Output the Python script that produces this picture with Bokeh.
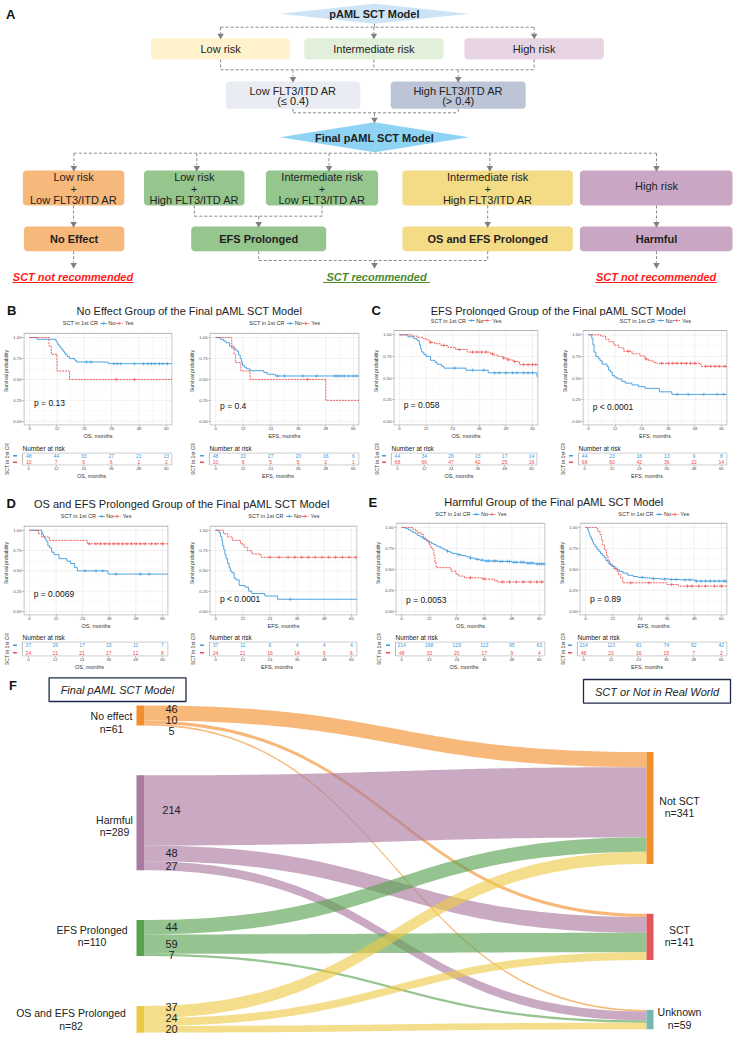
import numpy as np
from bokeh.plotting import figure
from bokeh.models import Range1d, FixedTicker, PrintfTickFormatter
from bokeh.layouts import column, row
from bokeh.core.properties import value
from bokeh.embed import file_html
from bokeh.resources import INLINE

FONT = "Liberation Sans"
BLUE = "#3C9BDE"
RED = "#EE4B4B"
DARK = "#222222"

# ---------------- data: risk tables ----------------
risk_times = [0, 12, 24, 36, 48, 60]
b_os_risk_no = [48, 44, 33, 27, 21, 13]
b_os_risk_yes = [10, 7, 6, 6, 2, 2]
b_efs_risk_no = [48, 33, 27, 20, 16, 6]
b_efs_risk_yes = [10, 6, 5, 5, 2, 1]
c_os_risk_no = [44, 34, 26, 23, 17, 14]
c_os_risk_yes = [68, 66, 47, 42, 25, 16]
c_efs_risk_no = [44, 23, 16, 13, 9, 8]
c_efs_risk_yes = [68, 60, 42, 36, 22, 14]
d_os_risk_no = [37, 26, 17, 15, 11, 7]
d_os_risk_yes = [24, 21, 21, 17, 12, 8]
d_efs_risk_no = [37, 11, 6, 4, 4, 4]
d_efs_risk_yes = [24, 21, 16, 14, 9, 6]
e_os_risk_no = [214, 168, 129, 113, 95, 63]
e_os_risk_yes = [48, 33, 20, 17, 9, 4]
e_efs_risk_no = [214, 113, 81, 74, 62, 42]
e_efs_risk_yes = [48, 23, 16, 15, 7, 2]

# ---------------- data: KM curves (event times, survival after event, censor times) ----------------
b_os_no_t = [3.3, 11.5, 12.0, 12.4, 12.9, 13.5, 14.2, 14.8, 15.3, 15.9, 16.6, 17.5, 19.8, 20.5, 34.5]
b_os_no_s = [0.979, 0.958, 0.938, 0.917, 0.896, 0.875, 0.854, 0.833, 0.812, 0.792, 0.771, 0.750, 0.729, 0.708, 0.688]
b_os_no_c = [25, 27, 37, 38.5, 40, 46, 50, 52, 53.5, 55, 57, 58.5, 60.5]
b_os_yes_t = [8.5, 9.5, 12.0, 17.5]
b_os_yes_s = [0.9, 0.8, 0.6, 0.5]
b_os_yes_c = [38, 46]

b_efs_no_t = [2.0, 3.5, 4.5, 6.0, 7.0, 8.5, 9.3, 10.0, 10.7, 11.2, 11.7, 12.5, 13.5, 15.0, 21.0, 22.5, 26.0]
b_efs_no_s = [0.979, 0.958, 0.938, 0.90, 0.875, 0.854, 0.833, 0.792, 0.75, 0.708, 0.667, 0.646, 0.625, 0.604, 0.583, 0.562, 0.541]
b_efs_no_c = [27, 30, 38, 44, 52, 53, 54.5, 56, 58, 60, 61.5]
b_efs_yes_t = [7.0, 8.0, 8.7, 11.0, 15.0, 48.0]
b_efs_yes_s = [0.9, 0.8, 0.7, 0.6, 0.5, 0.25]
b_efs_yes_c = [40]

c_os_no_t = [3.8, 6.5, 8.0, 9.0, 9.5, 10.0, 11.0, 12.0, 14.0, 16.0, 17.0, 19.0, 20.0, 30.0, 40.0, 62.0]
c_os_no_s = [0.977, 0.955, 0.932, 0.886, 0.841, 0.80, 0.773, 0.75, 0.705, 0.682, 0.659, 0.636, 0.614, 0.59, 0.56, 0.52]
c_os_no_c = [25, 33, 38, 43, 45, 48, 51, 53, 56, 58, 60]
c_os_yes_t = [5.6, 8.0, 10.7, 12.0, 13.7, 15.9, 18.8, 21.8, 25.4, 30.6, 40.9, 42.5, 44.6, 46.8, 49.0, 51.2, 54.1]
c_os_yes_s = [0.985, 0.971, 0.956, 0.941, 0.912, 0.897, 0.877, 0.855, 0.83, 0.80, 0.78, 0.765, 0.75, 0.73, 0.71, 0.69, 0.655]
c_os_yes_c = [14, 20, 27, 33, 35, 37, 39, 42, 47, 49, 52, 56, 58, 60, 61.5]

c_efs_no_t = [1.5, 2.0, 2.5, 3.3, 4.4, 5.2, 6.2, 8.4, 9.1, 9.9, 10.7, 11.7, 12.9, 15.0, 16.6, 19.6, 22.5, 25.5, 32.0, 37.6]
c_efs_no_s = [0.955, 0.886, 0.80, 0.75, 0.727, 0.70, 0.66, 0.63, 0.59, 0.57, 0.53, 0.51, 0.49, 0.46, 0.44, 0.42, 0.40, 0.38, 0.34, 0.31]
c_efs_no_c = [40, 45, 52, 58, 61]
c_efs_yes_t = [5.5, 7.7, 9.2, 11.4, 13.7, 15.9, 19.6, 23.3, 25.5, 27.0, 29.2, 31.0, 50.7]
c_efs_yes_s = [0.985, 0.95, 0.92, 0.88, 0.85, 0.81, 0.78, 0.755, 0.72, 0.70, 0.68, 0.67, 0.635]
c_efs_yes_c = [18, 26, 33, 36, 38, 40, 42, 44, 46, 48, 53, 55, 57, 59, 61.5]

d_os_no_t = [5.5, 6.0, 6.3, 7.0, 7.6, 8.3, 9.0, 10.0, 11.1, 13.3, 16.9, 18.5, 20.4, 21.6, 35.4]
d_os_no_s = [0.973, 0.946, 0.919, 0.892, 0.865, 0.81, 0.784, 0.73, 0.70, 0.65, 0.62, 0.59, 0.54, 0.50, 0.46]
d_os_no_c = [25, 30, 33, 39, 50, 54]
d_os_yes_t = [4.0, 5.4, 9.0, 26.1]
d_os_yes_s = [0.958, 0.917, 0.875, 0.833]
d_os_yes_c = [27, 30, 32, 34, 36, 38, 40, 42, 44, 46, 48, 50, 52, 55, 57, 60]

d_efs_no_t = [1.5, 2.2, 2.8, 3.1, 3.6, 4.1, 4.6, 5.3, 6.0, 6.5, 7.2, 8.2, 9.0, 10.4, 13.0, 14.6, 16.0, 21.8, 27.4]
d_efs_no_s = [0.973, 0.92, 0.865, 0.81, 0.76, 0.70, 0.65, 0.59, 0.54, 0.50, 0.476, 0.41, 0.39, 0.32, 0.30, 0.25, 0.22, 0.19, 0.15]
d_efs_no_c = [33]
d_efs_yes_t = [3.5, 5.3, 7.4, 11.0, 12.5, 14.0, 16.0, 20.0]
d_efs_yes_s = [0.958, 0.917, 0.875, 0.833, 0.792, 0.75, 0.708, 0.667]
d_efs_yes_c = [24, 28, 32, 35, 38, 41, 44, 47, 50, 53, 56, 59, 62]

e_os_no_t = [1, 2, 3, 4, 5, 6, 7, 8, 9, 10, 11, 12, 13, 14, 15, 16, 17, 18, 19, 20, 21, 22, 24, 26, 28, 30, 32, 34, 36, 42, 48, 54, 58]
e_os_no_s = [0.995, 0.985, 0.97, 0.955, 0.94, 0.925, 0.905, 0.89, 0.87, 0.855, 0.84, 0.825, 0.81, 0.795, 0.78, 0.77, 0.755,
             0.74, 0.73, 0.715, 0.705, 0.69, 0.675, 0.665, 0.65, 0.635, 0.62, 0.61, 0.60, 0.595, 0.585, 0.575, 0.565]
e_os_no_c = [20, 25, 30, 33, 35, 37, 38, 40, 41, 43, 44, 46, 47, 49, 50, 52, 53, 55, 56, 57, 59, 60, 61, 62]
e_os_yes_t = [4.8, 6.0, 7.0, 8.4, 9.5, 10.5, 11.3, 12.0, 12.8, 13.5, 14.0, 14.5, 15.0, 21.5, 23.7, 25.0, 27.3, 35.3, 40.4, 41.9]
e_os_yes_s = [0.979, 0.958, 0.938, 0.917, 0.875, 0.854, 0.833, 0.792, 0.75, 0.729, 0.667, 0.583, 0.521, 0.479, 0.44, 0.42,
              0.40, 0.385, 0.365, 0.35]
e_os_yes_c = [30, 36, 44, 47, 50, 53, 56, 59, 61]

e_efs_no_t = [0.8, 1.2, 1.6, 2.0, 2.5, 3.0, 3.5, 4.2, 5.0, 5.8, 6.6, 7.4, 8.2, 9.0, 9.9, 11, 12, 13, 14, 15, 16.5, 18.6,
              21, 23, 26, 29, 33, 37, 42, 48.4]
e_efs_no_s = [0.98, 0.95, 0.92, 0.89, 0.86, 0.83, 0.80, 0.77, 0.74, 0.715, 0.69, 0.665, 0.64, 0.605, 0.575, 0.555, 0.535,
              0.515, 0.495, 0.475, 0.455, 0.43, 0.415, 0.405, 0.398, 0.39, 0.385, 0.38, 0.375, 0.36]
e_efs_no_c = [25, 30, 35, 38, 40, 44, 46, 49, 51, 53, 55, 57, 59, 61, 62]
e_efs_yes_t = [5.2, 6.3, 7.0, 7.6, 8.4, 9.2, 9.9, 10.6, 11.3, 12.4, 13.5, 14.5, 15.5, 16.4, 36.0, 41.0]
e_efs_yes_s = [0.958, 0.917, 0.854, 0.79, 0.729, 0.667, 0.604, 0.56, 0.54, 0.51, 0.48, 0.44, 0.40, 0.34, 0.32, 0.30]
e_efs_yes_c = [20, 28, 38, 45, 47, 50, 53, 57, 60]

# ---------------- data: Sankey ----------------
sankey_sources = ["No effect", "Harmful", "EFS Prolonged", "OS and EFS Prolonged"]
sankey_source_n = [61, 289, 110, 82]
sankey_targets = ["Not SCT", "SCT", "Unknown"]
sankey_target_n = [341, 141, 59]
flow_no_effect = [46, 10, 5]
flow_harmful = [214, 48, 27]
flow_efs = [44, 59, 7]
flow_os_efs = [37, 24, 20]

XLO, XHI = -2.7, 62.7
TICKS = [0, 12, 24, 36, 48, 60]
XMINOR = [6, 18, 30, 42, 54]
YTICKS = [0, 0.25, 0.5, 0.75, 1.0]
YMINOR = [0.125, 0.375, 0.625, 0.875]


def txt(p, x, y, s, size, color=DARK, align="center", base="middle", style="normal", angle=0.0, **kw):
    p.text(x=[x], y=[y], text=[s], text_font=value(FONT), text_font_size=value(size), text_color=color,
           text_align=align, text_baseline=base, text_font_style=style, angle=angle, **kw)


def blank(W, H, xr, yr):
    p = figure(width=W, height=H, title=None, x_range=Range1d(*xr), y_range=Range1d(*yr), output_backend="svg",
               toolbar_location=None, min_border=0, x_axis_location=None, y_axis_location=None)
    p.outline_line_color = None
    p.grid.visible = False
    return p


def rounded(x0, y0, x1, y1, r=3.5):
    xs, ys = [], []
    for cx, cy, a0, a1 in [(x1 - r, y0 + r, -90, 0), (x1 - r, y1 - r, 0, 90), (x0 + r, y1 - r, 90, 180), (x0 + r, y0 + r, 180, 270)]:
        for a in np.linspace(np.radians(a0), np.radians(a1), 6):
            xs.append(cx + r * np.cos(a))
            ys.append(cy + r * np.sin(a))
    return xs, ys


def step_value(ts, ss, t):
    v = 1.0
    for ti, si in zip(ts, ss):
        if ti <= t:
            v = si
    return v


def style_axis(ax, tick_size="4.2px", lab_size="5.5px"):
    ax.major_label_text_font_size = tick_size
    ax.major_label_text_font = FONT
    ax.major_label_text_color = "#4D4D4D"
    ax.major_label_standoff = 0
    ax.major_tick_out = 1
    ax.major_tick_in = 0
    ax.major_tick_line_color = "#4D4D4D"
    ax.major_tick_line_width = 0.6
    ax.minor_tick_line_color = None
    ax.axis_line_color = None
    ax.axis_label_text_font_size = lab_size
    ax.axis_label_text_font = FONT
    ax.axis_label_text_font_style = "normal"
    ax.axis_label_text_color = "#333333"
    ax.axis_label_standoff = 0


def km_panel(W, H, box, leg_y, xlabel, no, yes, pval, pval_y):
    bl, br, bt, bb = box
    ppu = (bb - bt) / 1.1
    ppm = (br - bl) / (XHI - XLO)
    y_top = 1.05 + bt / ppu
    p = figure(width=W, height=H, title=None, x_range=Range1d(XLO, XHI), y_range=Range1d(-0.05, y_top),
               output_backend="svg", toolbar_location=None,
               min_border_left=bl, min_border_right=W - br, min_border_top=0, min_border_bottom=H - bb)
    p.outline_line_color = None
    p.grid.visible = False
    p.xaxis.ticker = FixedTicker(ticks=TICKS)
    p.yaxis.ticker = FixedTicker(ticks=YTICKS)
    p.yaxis.formatter = PrintfTickFormatter(format="%.2f")
    style_axis(p.xaxis[0])
    style_axis(p.yaxis[0], lab_size="5px")
    p.yaxis.major_label_standoff = 1
    p.yaxis.axis_label_standoff = 1
    p.xaxis.axis_label = xlabel
    p.yaxis.axis_label = "Survival probability"
    # grid (drawn inside the panel box only)
    p.segment(x0=XMINOR, x1=XMINOR, y0=[-0.05] * 5, y1=[1.05] * 5, line_color="#F4F4F4", line_width=0.5)
    p.segment(x0=[XLO] * 4, x1=[XHI] * 4, y0=YMINOR, y1=YMINOR, line_color="#F4F4F4", line_width=0.5)
    p.segment(x0=TICKS, x1=TICKS, y0=[-0.05] * 6, y1=[1.05] * 6, line_color="#E8E8E8", line_width=0.6)
    p.segment(x0=[XLO] * 5, x1=[XHI] * 5, y0=YTICKS, y1=YTICKS, line_color="#E8E8E8", line_width=0.6)
    p.quad(left=[XLO + 0.45 / ppm], right=[XHI - 0.45 / ppm], bottom=[-0.05 + 0.45 / ppu], top=[1.05],
           fill_color=None, line_color="#ABABAB", line_width=0.9)
    for (t, s, c, end), col, dash in [(no, BLUE, "solid"), (yes, RED, "2 1")]:
        xs = [0.0] + list(t) + [end]
        ys = [1.0] + list(s) + [s[-1]]
        p.step(xs, ys, mode="after", line_color=col, line_width=0.9, line_dash=dash)
        cy = [step_value(t, s, ci) for ci in c]
        p.scatter(c, cy, marker="cross", size=3.5, line_color=col, line_width=0.6)
    # legend above the panel box
    cx = (XLO + XHI) / 2
    ly = 1.05 + (bt - leg_y) / ppu

    def X(px):
        return cx + px / ppm
    txt(p, X(0), ly, "SCT in 1st CR", "5.5px", color="#333333", align="right")
    p.segment(x0=[X(2.5)], x1=[X(9)], y0=[ly], y1=[ly], line_color=BLUE, line_width=0.9)
    p.scatter([X(5.75)], [ly], marker="cross", size=3.5, line_color=BLUE, line_width=0.6)
    txt(p, X(10.5), ly, "No", "5.5px", color="#333333", align="left")
    p.segment(x0=[X(18)], x1=[X(25)], y0=[ly], y1=[ly], line_color=RED, line_width=0.9, line_dash="2 1")
    p.scatter([X(21.5)], [ly], marker="cross", size=3.5, line_color=RED, line_width=0.6)
    txt(p, X(27), ly, "Yes", "5.5px", color="#333333", align="left")
    txt(p, 1.9, pval_y, pval, "8.5px", color="#111111", align="left")
    return p


def risk_panel(W, H, box, xlabel, no_vals, yes_vals):
    bl, br, bt, bb = box
    fl = max(8, int(round(bl - 12.5)))
    ppm = (br - bl) / (XHI - XLO)
    ppr = (bb - bt) / 2.0
    x_lo = XLO - (bl - fl) / ppm
    p = figure(width=W, height=H, title="Number at risk", x_range=Range1d(x_lo, XHI), y_range=Range1d(0, 2),
               output_backend="svg", toolbar_location=None,
               min_border_left=fl, min_border_right=W - br, min_border_top=bt, min_border_bottom=H - bb)
    p.outline_line_color = None
    p.grid.visible = False
    p.title.align = "left"
    p.title.offset = bl - fl
    p.title.text_font_size = "6.5px"
    p.title.text_font_style = "normal"
    p.title.text_font = FONT
    p.title.text_color = DARK
    p.title.standoff = 1
    p.xaxis.ticker = FixedTicker(ticks=TICKS)
    style_axis(p.xaxis[0])
    p.xaxis.axis_label = xlabel
    p.yaxis.ticker = FixedTicker(ticks=[])
    style_axis(p.yaxis[0], lab_size="5px")
    p.yaxis.major_tick_out = 0
    p.yaxis.axis_label = "SCT in 1st CR"
    p.yaxis.axis_label_standoff = 1
    p.quad(left=[XLO], right=[XHI - 0.5 / ppm], bottom=[0.5 / ppr], top=[2 - 0.5 / ppr], fill_color=None,
           line_color="#ABABAB", line_width=0.8)
    p.text(x=risk_times, y=[1.5] * 6, text=[str(v) for v in no_vals], text_font=value(FONT),
           text_font_size=value("5px"), text_color=BLUE, text_align="center", text_baseline="middle")
    p.text(x=risk_times, y=[0.5] * 6, text=[str(v) for v in yes_vals], text_font=value(FONT),
           text_font_size=value("5px"), text_color=RED, text_align="center", text_baseline="middle")
    p.segment(x0=[XLO - 9.5 / ppm] * 2, x1=[XLO - 5.5 / ppm] * 2, y0=[1.5, 0.5], y1=[1.5, 0.5],
              line_color=[BLUE, RED], line_width=1.6)
    return p


# ======================= Panel A =======================
pa = blank(733, 316, (0, 733), (316, 0))
txt(pa, 5.5, 14, "A", "13px", color="#111111", align="left", style="bold")

for cx, cy, hw, hh, col, lab in [(374, 13.3, 94.6, 10, "#CCE4F6", "pAML SCT Model"),
                                 (374, 136.7, 94.6, 15, "#8ED3F4", "Final pAML SCT Model")]:
    pa.patch([cx - hw, cx, cx + hw, cx], [cy, cy - hh, cy, cy + hh], fill_color=col, line_color=None)
    txt(pa, cx, cy + 0.5, lab, "11px", style="bold")

boxes = [
    (150.5, 37.7, 289.7, 59, "#FFF2CC"), (303.7, 37.7, 443, 59, "#E2EFDA"), (464, 37.7, 603.3, 59, "#E6D4E2"),
    (225.2, 81, 359.8, 108.3, "#E9ECF2"), (390.2, 81, 525.2, 108.3, "#BCC5D6"),
    (22.4, 170, 123.8, 205, "#F7B87B"), (143.5, 170, 244, 205, "#95C68D"), (265.4, 170, 377.6, 205, "#95C68D"),
    (401.9, 170, 572.4, 205, "#F4DC87"), (579.4, 170, 732, 205, "#C9A6C4"),
    (23.4, 226, 123.8, 250.7, "#F7B87B"), (190.7, 226, 325.7, 250.7, "#95C68D"),
    (401.9, 226, 572.4, 250.7, "#F4DC87"), (579.4, 226, 732, 250.7, "#C9A6C4"),
]
bxs, bys, bcs = [], [], []
for x0, y0, x1, y1, c in boxes:
    xs, ys = rounded(x0, y0, x1, y1)
    bxs.append(xs); bys.append(ys); bcs.append(c)
pa.patches(bxs, bys, fill_color=bcs, line_color=None)

dashed = [
    [(374, 23.3), (374, 26.7)], [(220.1, 26.7), (533.7, 26.7)],
    [(220.1, 26.7), (220.1, 33)], [(373.4, 26.7), (373.4, 33)], [(533.7, 26.7), (533.7, 33)],
    [(220.1, 59), (220.1, 69.3)], [(373.4, 59), (373.4, 69.3)], [(533.7, 59), (533.7, 69.3)],
    [(220.1, 69.3), (533.7, 69.3)], [(292.5, 69.3), (292.5, 76)], [(457.7, 69.3), (457.7, 76)],
    [(292.5, 108.3), (292.5, 112.3)], [(457.7, 108.3), (457.7, 112.3)], [(292.5, 112.3), (457.7, 112.3)],
    [(374, 112.3), (374, 117)],
    [(73.4, 152.7), (656, 152.7)],
    [(73.4, 152.7), (73.4, 165)], [(196.3, 152.7), (196.3, 165)], [(328.5, 152.7), (328.5, 165)],
    [(489.3, 152.7), (489.3, 165)], [(656, 152.7), (656, 165)],
    [(73.1, 205), (73.1, 221)], [(193.8, 205), (193.8, 215.7)], [(321.5, 205), (321.5, 215.7)],
    [(193.8, 215.7), (321.5, 215.7)], [(258.2, 215.7), (258.2, 221)], [(487.2, 205), (487.2, 221)],
    [(656, 205), (656, 221)],
    [(73.1, 250.7), (73.1, 262)], [(258.2, 250.7), (258.2, 260)], [(487.2, 250.7), (487.2, 260)],
    [(258.2, 260), (487.2, 260)], [(374, 260), (374, 262)], [(656, 250.7), (656, 262)],
]
pa.multi_line([[a[0] for a in seg] for seg in dashed], [[a[1] for a in seg] for seg in dashed],
              line_color="#8A8A8A", line_width=1, line_dash="3 2")
arrows = [(220.1, 37.7), (373.4, 37.7), (533.7, 37.7), (292.5, 81), (457.7, 81), (374, 121.7),
          (73.4, 170), (196.3, 170), (328.5, 170), (489.3, 170), (656, 170),
          (73.1, 226), (258.2, 226), (487.2, 226), (656, 226),
          (73.1, 267), (374, 267), (656, 267)]
pa.scatter([a[0] for a in arrows], [a[1] - 2.6 for a in arrows], marker="inverted_triangle", size=6.5,
           fill_color="#7F7F7F", line_color=None)

for x, y, s in [(220.1, 48.3, "Low risk"), (373.4, 48.3, "Intermediate risk"), (533.7, 48.3, "High risk"),
                (292.5, 90, "Low FLT3/ITD AR"), (292.5, 100.7, "(\u2264 0.4)"),
                (457.7, 90, "High FLT3/ITD AR"), (457.7, 100.7, "(> 0.4)"),
                (73.1, 176.7, "Low risk"), (73.1, 188.3, "+"), (73.1, 199, "Low FLT3/ITD AR"),
                (193.8, 176.7, "Low risk"), (193.8, 188.3, "+"), (193.8, 199, "High FLT3/ITD AR"),
                (321.5, 176.7, "Intermediate risk"), (321.5, 188.3, "+"), (321.5, 199, "Low FLT3/ITD AR"),
                (487.2, 176.7, "Intermediate risk"), (487.2, 188.3, "+"), (487.2, 199, "High FLT3/ITD AR"),
                (656, 185, "High risk")]:
    txt(pa, x, y, s, "11px")
for x, s in [(73.6, "No Effect"), (258.2, "EFS Prolonged"), (487.2, "OS and EFS Prolonged"), (656, "Harmful")]:
    txt(pa, x, 238.8, s, "11px", style="bold")
for x, s, c, hw in [(72.5, "SCT not recommended", "#FF1A1A", 60.5), (376, "SCT recommended", "#4E8A2E", 53.5),
                    (655.6, "SCT not recommended", "#FF1A1A", 60.5)]:
    txt(pa, x, 276, s, "11px", color=c, style="bold italic")
    pa.line([x - hw, x + hw], [282, 282], line_color=c, line_width=1.1)

txt(pa, 6.5, 309.5, "B", "13px", color="#111111", align="left", style="bold")
txt(pa, 189, 310.7, "No Effect Group of the Final pAML SCT Model", "11px")
txt(pa, 371, 309.5, "C", "13px", color="#111111", align="left", style="bold")
txt(pa, 558, 310.7, "EFS Prolonged Group of the Final pAML SCT Model", "11px")

# ======================= KM rows =======================
WS = [186, 184, 186, 177]
row_bc = row([
    km_panel(WS[0], 126, (21, 172, 17, 110), 7, "OS, months", (b_os_no_t, b_os_no_s, b_os_no_c, 62.5),
             (b_os_yes_t, b_os_yes_s, b_os_yes_c, 62.5), "p = 0.13", 0.22),
    km_panel(WS[1], 126, (21, 173, 17, 110), 7, "EFS, months", (b_efs_no_t, b_efs_no_s, b_efs_no_c, 62.5),
             (b_efs_yes_t, b_efs_yes_s, b_efs_yes_c, 62.5), "p = 0.4", 0.18),
    km_panel(WS[2], 126, (20, 168, 14, 109), 4, "OS, months", (c_os_no_t, c_os_no_s, c_os_no_c, 62.5),
             (c_os_yes_t, c_os_yes_s, c_os_yes_c, 62.5), "p = 0.058", 0.19),
    km_panel(WS[3], 126, (26, 171, 14, 109), 4, "EFS, months", (c_efs_no_t, c_efs_no_s, c_efs_no_c, 62.5),
             (c_efs_yes_t, c_efs_yes_s, c_efs_yes_c, 62.5), "p < 0.0001", 0.17),
])
risk_bc = row([
    risk_panel(WS[0], 39, (22, 172, 9, 25), "OS, months", b_os_risk_no, b_os_risk_yes),
    risk_panel(WS[1], 39, (21, 173, 9, 25), "EFS, months", b_efs_risk_no, b_efs_risk_yes),
    risk_panel(WS[2], 39, (19, 167, 8, 25), "OS, months", c_os_risk_no, c_os_risk_yes),
    risk_panel(WS[3], 39, (22, 171, 8, 25), "EFS, months", c_efs_risk_no, c_efs_risk_yes),
])

pde = blank(733, 29, (0, 733), (510, 481))
txt(pde, 6, 503, "D", "13px", color="#111111", align="left", style="bold")
txt(pde, 181.5, 503, "OS and EFS Prolonged Group of the Final pAML SCT Model", "11px")
txt(pde, 368, 502, "E", "13px", color="#111111", align="left", style="bold")
txt(pde, 555, 501.7, "Harmful  Group of the Final pAML SCT Model", "11px")

row_de = row([
    km_panel(WS[0], 121, (20, 168, 16, 107), 6, "OS, months", (d_os_no_t, d_os_no_s, d_os_no_c, 62.5),
             (d_os_yes_t, d_os_yes_s, d_os_yes_c, 62.5), "p = 0.0069", 0.21),
    km_panel(WS[1], 121, (23, 171, 16, 107), 6, "EFS, months", (d_efs_no_t, d_efs_no_s, d_efs_no_c, 62.5),
             (d_efs_yes_t, d_efs_yes_s, d_efs_yes_c, 62.5), "p < 0.0001", 0.15),
    km_panel(WS[2], 121, (25, 175, 13, 107), 4, "OS, months", (e_os_no_t, e_os_no_s, e_os_no_c, 62.5),
             (e_os_yes_t, e_os_yes_s, e_os_yes_c, 62.5), "p = 0.0053", 0.14),
    km_panel(WS[3], 121, (22, 171, 13, 107), 4, "EFS, months", (e_efs_no_t, e_efs_no_s, e_efs_no_c, 62.5),
             (e_efs_yes_t, e_efs_yes_s, e_efs_yes_c, 62.5), "p = 0.89", 0.15),
])
risk_de = row([
    risk_panel(WS[0], 41, (20, 168, 10, 28), "OS, months", d_os_risk_no, d_os_risk_yes),
    risk_panel(WS[1], 41, (23, 171, 10, 28), "EFS, months", d_efs_risk_no, d_efs_risk_yes),
    risk_panel(WS[2], 41, (25, 175, 10, 27), "OS, months", e_os_risk_no, e_os_risk_yes),
    risk_panel(WS[3], 41, (19, 171, 10, 27), "EFS, months", e_efs_risk_no, e_efs_risk_yes),
])

# ======================= Panel F (Sankey) =======================
K = 0.328      # px per patient
GAP = 152      # gap between nodes, patients
RIGHT0 = 142   # offset of the first right node, patients
TOP_PX = 705
F_TOP, F_BOT = 672, 1036
pf = blank(733, F_BOT - F_TOP, (0, 733), (F_BOT, F_TOP))
pf.extra_y_ranges = {"n": Range1d(start=(F_BOT - TOP_PX) / K, end=(F_TOP - TOP_PX) / K)}

txt(pf, 8.4, 685, "F", "13px", color="#111111", align="left", style="bold")
pf.quad(left=[48.6, 583], right=[185.5, 730], top=[677.3, 679], bottom=[701, 702.7], fill_color=None,
        line_color="#1F2A4A", line_width=1.3)
txt(pf, 117, 689.3, "Final pAML SCT Model", "11px", style="italic")
txt(pf, 656.5, 691, "SCT or Not in Real World", "11px", style="italic")

src_colors = ["#F28E2B", "#A9799F", "#59A14F", "#EDC948"]
tgt_colors = ["#F28E2B", "#E15759", "#76B7B2"]
flows = [flow_no_effect, flow_harmful, flow_efs, flow_os_efs]

lt, acc = [], 0
for n in sankey_source_n:
    lt.append(acc); acc += n + GAP
rt, acc = [], RIGHT0
for n in sankey_target_n:
    rt.append(acc); acc += n + GAP

X0, X1 = 143.5, 646.0
XM = (X0 + X1) / 2
tt = np.linspace(0, 1, 80)
bx = (1 - tt) ** 3 * X0 + 3 * (1 - tt) ** 2 * tt * XM + 3 * (1 - tt) * tt ** 2 * XM + tt ** 3 * X1


def bez(a, b):
    return (1 - tt) ** 3 * a + 3 * (1 - tt) ** 2 * tt * a + 3 * (1 - tt) * tt ** 2 * b + tt ** 3 * b


so, to = list(lt), list(rt)
lab_x, lab_y, lab_t = [], [], []
for i, fl in enumerate(flows):
    centers = []
    for j, v in enumerate(fl):
        a0 = so[i]; so[i] += v
        b0 = to[j]; to[j] += v
        top, bot = bez(a0, b0), bez(a0 + v, b0 + v)
        pf.patch(list(bx) + list(bx[::-1]), list(top) + list(bot[::-1]), fill_color=src_colors[i],
                 fill_alpha=0.63, line_color=None, y_range_name="n")
        centers.append(a0 + v / 2)
    gap = 11 / K
    out = []
    for c in centers:
        out.append(c if not out else max(c, out[-1] + gap))
    shift = (sum(centers) - sum(out)) / len(out)
    out = [o + shift for o in out]
    if i == len(flows) - 1:
        limit = lt[i] + sankey_source_n[i] - 3.5 / K
        if out[-1] > limit:
            out = [o - (out[-1] - limit) for o in out]
    for v, o in zip(fl, out):
        lab_x.append(171); lab_y.append(o); lab_t.append(str(v))

pf.quad(left=136, right=143.5, top=lt, bottom=[a + n for a, n in zip(lt, sankey_source_n)],
        fill_color=src_colors, line_color=None, y_range_name="n")
pf.quad(left=646, right=653, top=rt, bottom=[a + n for a, n in zip(rt, sankey_target_n)],
        fill_color=tgt_colors, line_color=None, y_range_name="n")
pf.text(x=lab_x, y=lab_y, text=lab_t, text_font=value(FONT), text_font_size=value("11px"), text_color=DARK,
        text_align="center", text_baseline="middle", y_range_name="n")

left_cx = [111, 114, 91.6, 70.5]
left_off = [7, 3, -2, 0]
for name, n, top, cx, off in zip(sankey_sources, sankey_source_n, lt, left_cx, left_off):
    c = top + n / 2 + off / K
    txt(pf, cx, c - 6.2 / K, name, "10.5px", y_range_name="n")
    txt(pf, cx, c + 6.2 / K, "n=%d" % n, "10.5px", y_range_name="n")
for name, n, top in zip(sankey_targets, sankey_target_n, rt):
    c = top + n / 2 - 1 / K
    txt(pf, 679, c - 6.2 / K, name, "10.5px", y_range_name="n")
    txt(pf, 679, c + 6.2 / K, "n=%d" % n, "10.5px", y_range_name="n")

layout = column([pa, row_bc, risk_bc, pde, row_de, risk_de, pf])
open("out.html", "w").write(file_html(layout, INLINE))
